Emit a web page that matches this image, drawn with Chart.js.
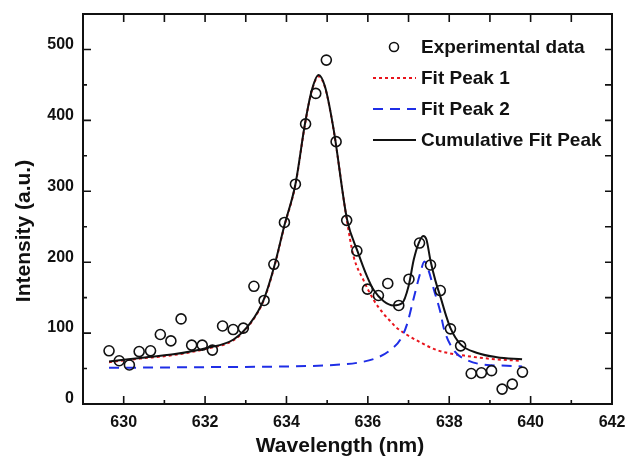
<!DOCTYPE html>
<html>
<head>
<meta charset="utf-8">
<script src="https://cdn.jsdelivr.net/npm/chart.js@4.4.1/dist/chart.umd.min.js"></script>
<style>
  html, body { margin: 0; padding: 0; background: #fff; }
</style>
</head>
<body>
<canvas id="spectrum" width="627" height="458"></canvas>
<script>
// measured points (wavelength in nm, intensity in a.u.)
const expWavelength = [629.64, 629.89, 630.14, 630.38, 630.66, 630.90, 631.16, 631.41, 631.67, 631.93,
  632.18, 632.43, 632.69, 632.94, 633.20, 633.45, 633.69, 633.95, 634.22, 634.47,
  634.72, 634.98, 635.22, 635.48, 635.73, 635.99, 636.26, 636.49, 636.76, 637.01,
  637.27, 637.54, 637.78, 638.03, 638.28, 638.54, 638.79, 639.04, 639.30, 639.55, 639.80];
const expIntensity = [75, 61, 55, 74, 75, 98, 89, 120, 83, 83,
  76, 110, 105, 107, 166, 146, 197, 256, 310, 395,
  438, 485, 370, 259, 216, 162, 153, 170, 139, 176,
  227, 196, 160, 106, 82, 43, 44, 47, 21, 28, 45];

// fit curves
const peak1Wavelength = [629.64, 630.40, 631.22, 632.04, 632.70, 633.11, 633.44, 633.69, 633.95, 634.22,
  634.46, 634.62, 634.79, 634.95, 635.16, 635.49, 635.65, 635.89, 636.14, 636.39,
  636.55, 636.68, 636.92, 637.29, 637.70, 638.52, 639.17, 639.75];
const peak1Intensity = [59, 64, 69, 78, 90, 113, 146, 191, 251, 309,
  396, 441, 462, 446, 386, 257, 208, 175, 147, 127,
  117, 109, 99, 87, 76, 67, 63, 61];

const peak2Wavelength = [629.64, 632.00, 634.09, 635.16, 635.73, 636.22, 636.55, 636.80, 636.96, 637.13,
  637.29, 637.39, 637.50, 637.62, 637.78, 637.87, 638.11, 638.44, 638.93, 639.42, 639.79];
const peak2Intensity = [51, 52, 53, 55, 58, 65, 76, 91, 112, 150,
  185, 201, 187, 162, 130, 106, 76, 62, 55, 54, 53];

const sumWavelength = [629.64, 630.40, 631.22, 632.04, 632.70, 633.11, 633.44, 633.69, 633.95, 634.22,
  634.46, 634.62, 634.79, 634.95, 635.16, 635.49, 635.75, 635.98, 636.14, 636.39,
  636.63, 636.84, 637.00, 637.13, 637.25, 637.36, 637.44, 637.54, 637.66, 637.79,
  637.92, 638.03, 638.28, 638.69, 639.17, 639.79];
const sumIntensity = [60, 65, 70, 79, 91, 114, 147, 192, 252, 310,
  397, 442, 464, 447, 387, 260, 215, 180, 161, 145,
  139, 142, 166, 204, 227, 237, 232, 202, 174, 150,
  125, 107, 84, 72, 66, 63];

const xMajorTicks = [630, 632, 634, 636, 638, 640, 642];
const xMinorTicks = [631, 633, 635, 637, 639, 641];
const yMajorTicks = [0, 100, 200, 300, 400, 500];
const yMinorTicks = [50, 150, 250, 350, 450];

const FONT = "'Liberation Sans', Arial, sans-serif";

function pairs(xs, ys) {
  return xs.map((v, i) => ({ x: v, y: ys[i] }));
}

// Origin-like frame with inward ticks, legend and axis titles
const originFrame = {
  id: 'originFrame',
  afterDatasetsDraw(chart) {
    const { ctx, chartArea: a, scales: { x, y } } = chart;
    ctx.save();
    ctx.strokeStyle = '#111';
    ctx.lineWidth = 1.6;
    ctx.beginPath();
    const seg = (x1, y1, x2, y2) => { ctx.moveTo(x1, y1); ctx.lineTo(x2, y2); };
    xMajorTicks.forEach(v => { const p = x.getPixelForValue(v); seg(p, a.bottom, p, a.bottom - 8); });
    xMinorTicks.forEach(v => { const p = x.getPixelForValue(v); seg(p, a.bottom, p, a.bottom - 4); });
    xMajorTicks.concat(xMinorTicks).forEach(v => { const p = x.getPixelForValue(v); seg(p, a.top, p, a.top + 8); });
    yMajorTicks.forEach(v => { const p = y.getPixelForValue(v); seg(a.left, p, a.left + 8, p); });
    yMinorTicks.forEach(v => { const p = y.getPixelForValue(v); seg(a.left, p, a.left + 4, p); });
    yMajorTicks.concat(yMinorTicks).forEach(v => { const p = y.getPixelForValue(v); seg(a.right, p, a.right - 7, p); });
    ctx.stroke();
    ctx.lineWidth = 2;
    ctx.strokeRect(a.left, a.top, a.right - a.left, a.bottom - a.top);
    ctx.restore();
  },
  afterDraw(chart) {
    const { ctx, chartArea: a } = chart;
    ctx.save();
    ctx.fillStyle = '#111';
    ctx.textBaseline = 'middle';

    // legend
    const lx = a.right - 239;
    const tx = a.right - 191;
    ctx.font = 'bold 19px ' + FONT;
    chart.data.datasets.forEach((ds, i) => {
      const ly = a.top + 33 + i * 31;
      ctx.strokeStyle = ds.borderColor;
      ctx.lineWidth = ds.borderWidth;
      if (ds.showLine === false) {
        ctx.lineWidth = ds.pointBorderWidth;
        ctx.beginPath();
        ctx.arc(lx + 21, ly, ds.pointRadius - 0.5, 0, Math.PI * 2);
        ctx.stroke();
      } else {
        ctx.setLineDash(ds.borderDash || []);
        ctx.beginPath();
        ctx.moveTo(lx, ly);
        ctx.lineTo(lx + 43, ly);
        ctx.stroke();
        ctx.setLineDash([]);
      }
      ctx.textAlign = 'left';
      ctx.fillText(ds.label, tx, ly + 1);
    });

    // axis titles
    ctx.font = 'bold 21px ' + FONT;
    ctx.textAlign = 'center';
    ctx.fillText('Wavelength (nm)', 340, 446);
    ctx.translate(24, 231);
    ctx.rotate(-Math.PI / 2);
    ctx.fillText('Intensity (a.u.)', 0, 0);
    ctx.restore();
  }
};

const ctx = document.getElementById('spectrum').getContext('2d');
new Chart(ctx, {
  type: 'scatter',
  data: {
    datasets: [
      {
        label: 'Experimental data',
        data: pairs(expWavelength, expIntensity),
        showLine: false,
        order: 0,
        pointStyle: 'circle',
        pointRadius: 5,
        pointBorderWidth: 1.6,
        borderColor: '#111',
        backgroundColor: 'rgba(0,0,0,0)'
      },
      {
        label: 'Fit Peak 1',
        data: pairs(peak1Wavelength, peak1Intensity),
        showLine: true,
        order: 3,
        pointRadius: 0,
        borderColor: '#e8141c',
        borderWidth: 2,
        borderDash: [3, 3],
        cubicInterpolationMode: 'monotone'
      },
      {
        label: 'Fit Peak 2',
        data: pairs(peak2Wavelength, peak2Intensity),
        showLine: true,
        order: 2,
        pointRadius: 0,
        borderColor: '#1f2ee6',
        borderWidth: 2,
        borderDash: [10, 7],
        cubicInterpolationMode: 'monotone'
      },
      {
        label: 'Cumulative Fit Peak',
        data: pairs(sumWavelength, sumIntensity),
        showLine: true,
        order: 1,
        pointRadius: 0,
        borderColor: '#111',
        borderWidth: 2,
        cubicInterpolationMode: 'monotone'
      }
    ]
  },
  options: {
    responsive: false,
    animation: false,
    layout: { padding: { top: 14, right: 15, left: 0, bottom: 0 } },
    plugins: {
      legend: { display: false },
      tooltip: { enabled: false }
    },
    scales: {
      x: {
        type: 'linear',
        min: 629,
        max: 642,
        grid: { display: false, drawTicks: false },
        border: { display: false },
        afterBuildTicks: s => { s.ticks = xMajorTicks.map(v => ({ value: v })); },
        afterFit: s => { s.height = 54; s.paddingLeft = 0; s.paddingRight = 0; },
        ticks: {
          padding: 9,
          color: '#111',
          maxRotation: 0,
          font: { family: FONT, size: 16, weight: 'bold' }
        }
      },
      y: {
        min: 0,
        max: 550,
        grid: { display: false, drawTicks: false },
        border: { display: false },
        afterBuildTicks: s => { s.ticks = yMajorTicks.map(v => ({ value: v })); },
        afterFit: s => { s.width = 83; s.paddingTop = 0; s.paddingBottom = 0; },
        ticks: {
          padding: 9,
          labelOffset: -5,
          color: '#111',
          font: { family: FONT, size: 16, weight: 'bold' }
        }
      }
    }
  },
  plugins: [originFrame]
});
</script>
</body>
</html>
